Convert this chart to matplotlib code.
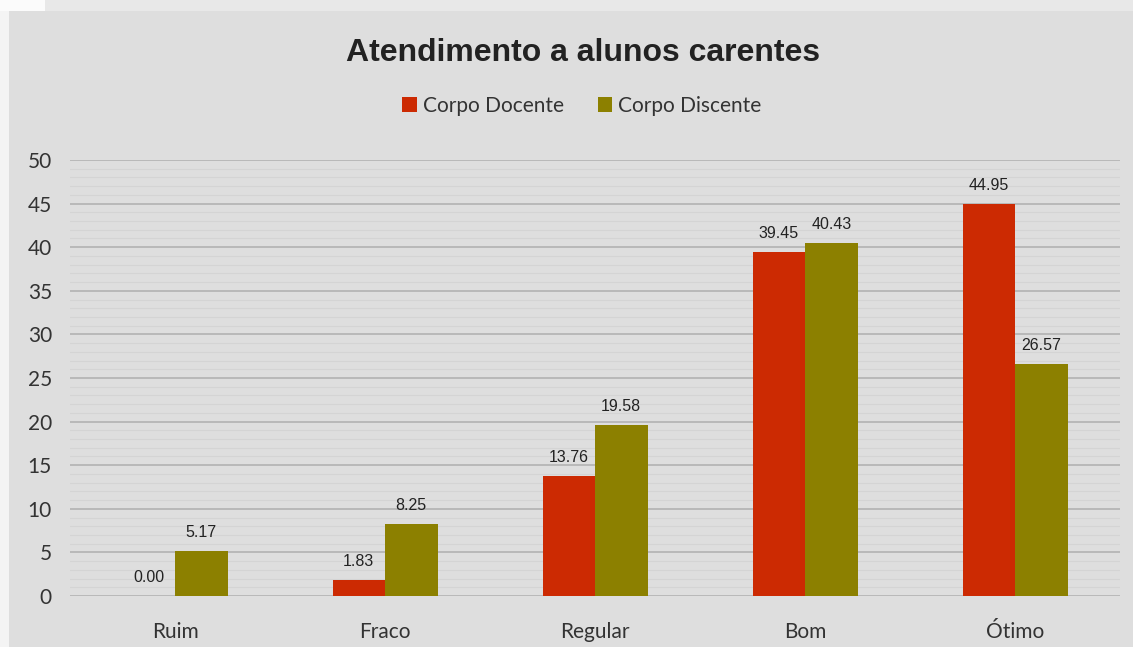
import matplotlib.pyplot as plt
from matplotlib.patches import Rectangle
import numpy as np

categories = ['Ruim', 'Fraco', 'Regular', 'Bom', 'Ótimo']
docente = [0.00, 1.83, 13.76, 39.45, 44.95]
discente = [5.17, 8.25, 19.58, 40.43, 26.57]
series_names = ['Corpo Docente', 'Corpo Discente']
title = 'Atendimento a alunos carentes'

RED = '#cc2a02'
OLIVE = '#8c8000'
BG = '#dedede'


def main():
    W, H = 1133, 647
    fig = plt.figure(figsize=(W / 100, H / 100), dpi=100)
    fig.patch.set_facecolor(BG)

    # lighter strip at top and pale left edge (screenshot framing)
    fig.patches.append(Rectangle((0, 1 - 11 / H), 1, 11 / H, transform=fig.transFigure,
                                 facecolor='#e8e8e8', edgecolor='none', zorder=0))
    fig.patches.append(Rectangle((0, 0), 9 / W, 1, transform=fig.transFigure,
                                 facecolor='#f4f4f4', edgecolor='none', zorder=0))
    fig.patches.append(Rectangle((0, 1 - 11 / H), 45 / W, 11 / H, transform=fig.transFigure,
                                 facecolor='#fbfbfb', edgecolor='none', zorder=0))

    ax = fig.add_axes([70 / W, (H - 596) / H, (1120 - 70) / W, (596 - 160) / H])
    ax.set_facecolor(BG)

    x = np.arange(len(categories))
    w = 0.25
    b1 = ax.bar(x - w / 2, docente, w, color=RED, label=series_names[0], zorder=3)
    b2 = ax.bar(x + w / 2, discente, w, color=OLIVE, label=series_names[1], zorder=3)

    for bars, vals in ((b1, docente), (b2, discente)):
        for rect, v in zip(bars, vals):
            ax.annotate(f'{v:.2f}', (rect.get_x() + rect.get_width() / 2, v),
                        xytext=(0, 8), textcoords='offset points', ha='center', va='bottom',
                        fontsize=11.5, family='Liberation Sans', color='#222222')

    ax.set_xlim(-0.5, len(categories) - 0.5)
    ax.set_ylim(0, 50)
    ax.set_yticks(np.arange(0, 51, 5))
    ax.set_yticks(np.arange(0, 51, 1), minor=True)
    ax.grid(axis='y', which='major', color='#b2b2b2', linewidth=1.2, zorder=1)
    ax.grid(axis='y', which='minor', color='#d4d4d4', linewidth=0.8, zorder=0)
    ax.set_xticks(x)
    ax.set_xticklabels(categories)
    ax.tick_params(axis='both', which='both', length=0, labelsize=15, labelcolor='#333333')
    ax.tick_params(axis='x', pad=19)
    ax.tick_params(axis='y', pad=13)
    for lab in ax.get_xticklabels() + ax.get_yticklabels():
        lab.set_family('Lato')
    for s in ax.spines.values():
        s.set_visible(False)

    fig.text(583 / W, 1 - 53 / H, title, ha='center', va='center', fontsize=23,
             fontweight='bold', family='Liberation Sans', color='#222222')
    fig.legend(loc='center', bbox_to_anchor=(582 / W, 1 - 106 / H), ncol=2, frameon=False,
               prop={'family': 'Lato', 'size': 15}, handlelength=0.7, handleheight=0.7,
               handletextpad=0.3, columnspacing=1.6, labelcolor='#333333')

    fig.savefig('out.png', dpi=100, facecolor=fig.get_facecolor())


if __name__ == '__main__':
    main()
